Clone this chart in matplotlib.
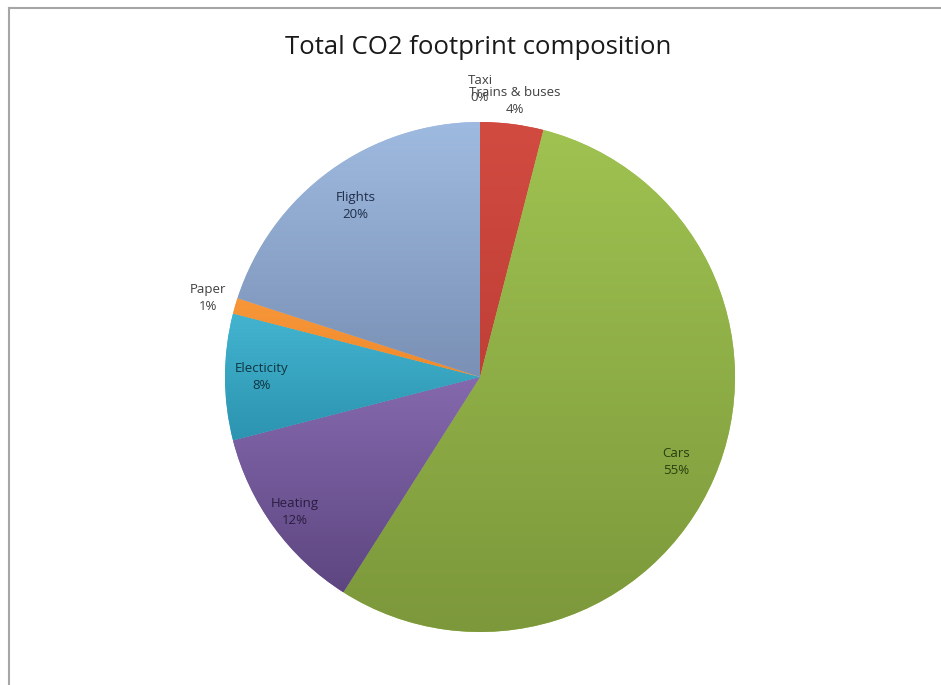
import numpy as np
import matplotlib
matplotlib.use('Agg')
import matplotlib.pyplot as plt
from matplotlib.colors import LinearSegmentedColormap
from matplotlib.lines import Line2D

# Data #
categories = ['Taxi', 'Trains & buses', 'Cars', 'Heating', 'Electicity', 'Paper', 'Flights']
shares = [0, 4, 55, 12, 8, 1, 20]
pct_labels = ['0%', '4%', '55%', '12%', '8%', '1%', '20%']

# Style #
top_colors = ['#c0504d', '#d24b41', '#9fc251', '#8569ae', '#43b4d0', '#f7973a', '#9fbae0']
bottom_colors = ['#c0504d', '#bf3f37', '#7c983b', '#5d4680', '#2c94b0', '#ef8a2c', '#7a90b5']
text_colors = ['#404040', '#404040', '#26400e', '#2a1d40', '#0e3540', '#404040', '#1f2e4a']
label_dist = [1.13, 1.09, 0.84, 0.9, 0.855, 1.11, 0.83]

plt.rcParams['font.family'] = ['Open Sans', 'DejaVu Sans']

fig = plt.figure(figsize=(9.41, 6.85), dpi=100)
W, H = 941., 685.
cx, cy, R = 480., 377., 255.
ax = fig.add_axes([(cx - R) / W, (H - cy - R) / H, 2 * R / W, 2 * R / H])
ax.axis('off')

wedges, _ = ax.pie(shares, startangle=90, counterclock=False, radius=1,
                   colors=top_colors, wedgeprops=dict(linewidth=0))

# vertical gradient inside every slice
for w, c0, c1 in zip(wedges, top_colors, bottom_colors):
    if w.theta2 - w.theta1 <= 0:
        continue
    cmap = LinearSegmentedColormap.from_list('g', [c1, c0])
    grad = np.linspace(0, 1, 256).reshape(-1, 1)
    bb = w.get_path().get_extents()
    im = ax.imshow(grad, cmap=cmap, origin='lower', aspect='auto',
                   extent=[bb.x0, bb.x1, bb.y0, bb.y1], zorder=2)
    im.set_clip_path(w)

for w, cat, pct, d, tc in zip(wedges, categories, pct_labels, label_dist, text_colors):
    ang = np.deg2rad((w.theta1 + w.theta2) / 2)
    ax.text(d * np.cos(ang), d * np.sin(ang), cat + '\n' + pct, ha='center', va='center',
            fontsize=9.5, color=tc, linespacing=1.45, zorder=5)

ax.set_xlim(-1, 1)
ax.set_ylim(-1, 1)
ax.set_aspect('equal')

fig.text(478 / W, 1 - 47 / H, 'Total CO2 footprint composition', ha='center', va='center',
         fontsize=18.5, color='#1a1a1a')

# outer frame lines
fig.add_artist(Line2D([9 / W, 9 / W], [0, 1 - 8 / H], color='#a6a6a6', lw=1.5))
fig.add_artist(Line2D([9 / W, 1], [1 - 8 / H, 1 - 8 / H], color='#a6a6a6', lw=1.5))

plt.savefig('out.png', dpi=100)
